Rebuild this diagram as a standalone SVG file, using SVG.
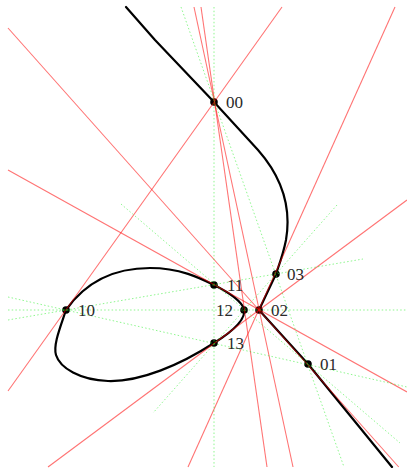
<svg xmlns="http://www.w3.org/2000/svg" width="407" height="468" viewBox="0 0 407 468">
<style>
.curve{fill:none;stroke:#000;stroke-width:2.2;stroke-linejoin:round;stroke-linecap:round}
.red{stroke:#ff0000;stroke-opacity:0.55;stroke-width:1.1;fill:none}
.green{stroke:#33ee33;stroke-opacity:0.55;stroke-width:1;stroke-dasharray:1.5 2.2;fill:none}
.dot{fill:#000}
.lbl{font-family:"Liberation Serif","DejaVu Serif",serif;font-size:17px;fill:#2a2a2a}
</style>
<rect width="407" height="468" fill="#fff"/>
<g id="curves">
<path class="curve" d="M126,7 L155,40 L214,102 L258,150 C280,175 292,205 286,240 C283,255 279,265 276,274 L259,310 L308,364 L392,467"/>
<path class="curve" d="M66,310 C80,290 105,268 150,268 C180,268 200,278 214,285 C228,292 241,300 244,309 C246,318 235,330 214,343 C180,365 140,382 108,381 C80,380 60,368 56,355 C53,345 60,328 66,310 Z"/>
</g>
<g id="points">
<g id="p00"><circle class="dot" cx="214" cy="102" r="3.8"/></g>
<g id="p01"><circle class="dot" cx="308" cy="364" r="3.8"/></g>
<g id="p02"><circle class="dot" cx="259" cy="310" r="3.8"/></g>
<g id="p03"><circle class="dot" cx="276" cy="274" r="3.8"/></g>
<g id="p10"><circle class="dot" cx="66" cy="310" r="3.8"/></g>
<g id="p11"><circle class="dot" cx="214" cy="285" r="3.8"/></g>
<g id="p12"><circle class="dot" cx="244" cy="310" r="3.8"/></g>
<g id="p13"><circle class="dot" cx="214" cy="343" r="3.8"/></g>
</g>
<g id="connectors">
<line class="red" x1="8" y1="28" x2="398.7" y2="467"/>
<line class="red" x1="8" y1="170" x2="407" y2="392"/>
<line class="red" x1="48" y1="467" x2="407" y2="200"/>
<line class="red" x1="188" y1="467" x2="395" y2="7"/>
<line class="red" x1="8" y1="391" x2="282" y2="7"/>
<line class="red" x1="194" y1="7" x2="293" y2="467"/>
<line class="red" x1="201" y1="7" x2="267" y2="467"/>
<line class="green" x1="214" y1="7" x2="214" y2="467"/>
<line class="green" x1="8" y1="310" x2="407" y2="310"/>
<line class="green" x1="181" y1="7" x2="344" y2="467"/>
<line class="green" x1="121" y1="204" x2="400" y2="443"/>
<line class="green" x1="337" y1="205" x2="153" y2="413"/>
<line class="green" x1="8" y1="320" x2="363" y2="259"/>
<line class="green" x1="8" y1="297" x2="407" y2="387"/>
</g>
<g id="labels">
<text class="lbl" x="226" y="108">00</text>
<text class="lbl" x="320" y="370">01</text>
<text class="lbl" x="271" y="316">02</text>
<text class="lbl" x="287" y="280">03</text>
<text class="lbl" x="78" y="316">10</text>
<text class="lbl" x="227" y="291">11</text>
<text class="lbl" x="233" y="316" text-anchor="end">12</text>
<text class="lbl" x="227" y="349">13</text>
</g>
</svg>
